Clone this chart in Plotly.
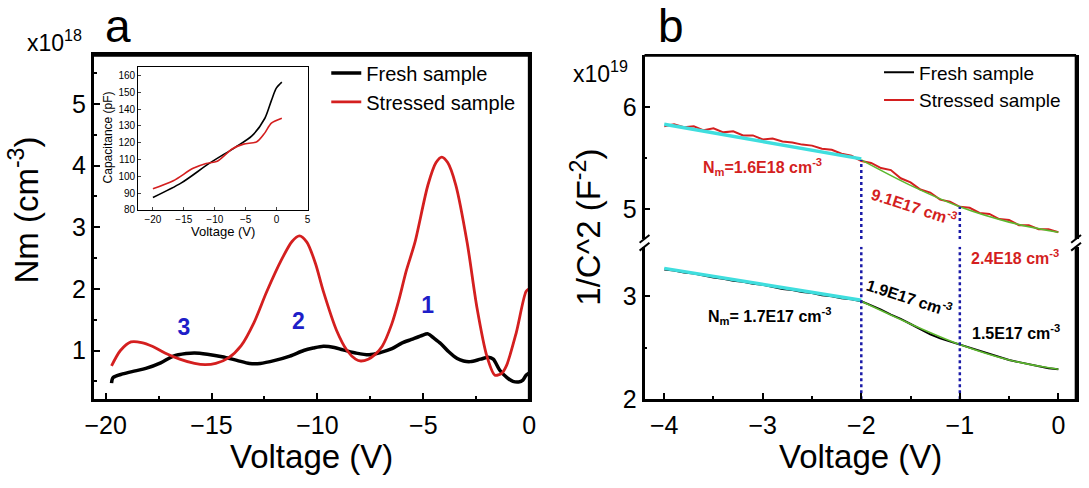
import plotly.graph_objects as go

# ---------------- data ----------------
# Panel a: Nm profiles (x10^18 cm^-3) vs voltage
a_fresh_v = [-19.72, -19.65, -19.2, -18.6, -18.1, -17.4, -16.8, -16.2, -15.8, -15.2, -14.5, -13.8,
             -13.2, -12.7, -12.0, -11.3, -10.65, -10.2, -9.72, -9.2, -8.8, -8.2, -7.56, -7.0,
             -6.48, -6.02, -5.56, -5.1, -4.78, -4.5, -4.17, -3.8, -3.4, -3.1, -2.78, -2.3,
             -1.93, -1.7, -1.39, -1.05, -0.77, -0.5, -0.3, -0.15, -0.02]
a_fresh_nm = [0.47, 0.56, 0.62, 0.67, 0.71, 0.80, 0.91, 0.95, 0.96, 0.94, 0.90, 0.84,
              0.79, 0.79, 0.84, 0.91, 1.00, 1.04, 1.07, 1.05, 1.01, 0.96, 0.93, 0.97,
              1.03, 1.12, 1.18, 1.24, 1.27, 1.20, 1.11, 0.98, 0.87, 0.83, 0.82, 0.86,
              0.89, 0.86, 0.68, 0.56, 0.50, 0.49, 0.52, 0.60, 0.63]

a_stress_v = [-19.72, -19.3, -18.8, -18.3, -17.8, -17.2, -16.5, -15.8, -15.3, -14.8, -14.2, -13.6,
              -13.0, -12.4, -11.7, -11.2, -10.85, -10.5, -10.1, -9.72, -9.1, -8.6, -8.2, -7.95,
              -7.6, -7.3, -6.94, -6.5, -6.17, -5.8, -5.4, -4.78, -4.4, -4.13, -3.85, -3.47,
              -2.93, -2.47, -2.0, -1.62, -1.3, -1.08, -0.62, -0.15, -0.02]
a_stress_nm = [0.75, 1.00, 1.14, 1.13, 1.07, 0.96, 0.86, 0.79, 0.77, 0.79, 0.88, 1.08,
               1.45, 1.95, 2.47, 2.77, 2.86, 2.76, 2.42, 1.96, 1.33, 1.00, 0.86, 0.83,
               0.86, 0.93, 1.07, 1.42, 1.80, 2.30, 2.75, 3.69, 4.05, 4.14, 4.05, 3.69,
               2.75, 1.70, 0.91, 0.60, 0.63, 0.75, 1.28, 1.96, 2.00]

peak_labels = ["1", "2", "3"]
peak_v = [-4.8, -10.9, -16.3]
peak_nm = [1.70, 1.44, 1.35]

# Inset: C-V curves (pF)
cv_fresh_v = [-20, -15.4, -10.9, -6.7, -4.0, -1.9, -0.85, -0.05, 0.84]
cv_fresh_c = [87.3, 96.0, 107.6, 117.2, 124.0, 134.5, 145.0, 152.4, 156.0]
cv_stress_v = [-20, -16.7, -13.5, -11.4, -9.6, -7.2, -5.35, -3.2, -1.9, -0.85, 0.84]
cv_stress_c = [92.5, 97.3, 104.7, 107.6, 108.9, 116.2, 119.1, 120.5, 125.8, 131.6, 134.5]

# Panel b: 1/C^2 (x10^19 F^-2)
b_v = [-4.0, -3.9, -3.8, -3.7, -3.6, -3.5, -3.4, -3.3, -3.2, -3.1, -3.0, -2.9, -2.8, -2.7,
       -2.6, -2.5, -2.4, -2.3, -2.2, -2.1, -2.0, -1.9, -1.8, -1.7, -1.6, -1.5, -1.4, -1.3,
       -1.2, -1.1, -1.0, -0.9, -0.8, -0.7, -0.6, -0.5, -0.4, -0.3, -0.2, -0.1, 0.0]
b_fresh = [3.26, 3.25, 3.23, 3.22, 3.20, 3.18, 3.17, 3.15, 3.14, 3.12, 3.11, 3.09, 3.07, 3.06,
           3.04, 3.03, 3.01, 3.00, 2.98, 2.97, 2.95, 2.91, 2.87, 2.82, 2.78, 2.73, 2.68, 2.63,
           2.59, 2.56, 2.53, 2.50, 2.47, 2.44, 2.41, 2.38, 2.36, 2.34, 2.32, 2.30, 2.29]
b_stress = [5.81, 5.83, 5.80, 5.81, 5.77, 5.79, 5.75, 5.76, 5.72, 5.72, 5.68, 5.69, 5.66, 5.65,
            5.63, 5.62, 5.59, 5.58, 5.54, 5.52, 5.47, 5.45, 5.40, 5.38, 5.30, 5.26, 5.19, 5.16,
            5.09, 5.07, 5.02, 5.01, 4.96, 4.95, 4.90, 4.89, 4.84, 4.84, 4.80, 4.80, 4.77]

fit1_v = [-4.0, -2.0]
fit1_fresh = [3.27, 2.96]
fit1_stress = [5.83, 5.49]
fit2_v = [-2.0, -1.5, -1.0, -0.5, 0.0]
fit2_fresh = [2.95, 2.73, 2.53, 2.38, 2.29]
fit2_stress = [5.48, 5.23, 5.02, 4.87, 4.77]

vline_v = [-2.0, -1.0]
vline_top = [5.48, 5.02]

# ---------------- layout helpers ----------------
W, H = 1089, 488
def px(x): return x / W
def py(y): return 1 - y / H

FONT = "Liberation Sans, Arial, sans-serif"
RED = "#d41f1f"
BLUE = "#1e1ec8"
CYAN = "#3fdede"
GREEN = "#5cb82e"

fig = go.Figure()

# Panel a main
fig.add_trace(go.Scatter(x=a_fresh_v, y=a_fresh_nm, mode="lines", name="Fresh sample",
                         line=dict(color="black", width=3.5, shape="spline", smoothing=0.8),
                         xaxis="x", yaxis="y", legend="legend"))
fig.add_trace(go.Scatter(x=a_stress_v, y=a_stress_nm, mode="lines", name="Stressed sample",
                         line=dict(color=RED, width=2.8, shape="spline", smoothing=0.8),
                         xaxis="x", yaxis="y", legend="legend"))
fig.add_trace(go.Scatter(x=peak_v, y=peak_nm, mode="text", text=[f"<b>{t}</b>" for t in peak_labels],
                         textfont=dict(color=BLUE, size=23, family=FONT), showlegend=False,
                         xaxis="x", yaxis="y"))

# Inset
fig.add_trace(go.Scatter(x=cv_fresh_v, y=cv_fresh_c, mode="lines", showlegend=False,
                         line=dict(color="black", width=1.6, shape="spline", smoothing=0.8),
                         xaxis="x2", yaxis="y2"))
fig.add_trace(go.Scatter(x=cv_stress_v, y=cv_stress_c, mode="lines", showlegend=False,
                         line=dict(color=RED, width=1.6, shape="spline", smoothing=0.8),
                         xaxis="x2", yaxis="y2"))

# Panel b data
fig.add_trace(go.Scatter(x=b_v, y=b_fresh, mode="lines", name="Fresh sample",
                         line=dict(color="black", width=2), xaxis="x3", yaxis="y3", legend="legend2"))
fig.add_trace(go.Scatter(x=b_v, y=b_stress, mode="lines", name="Stressed sample",
                         line=dict(color=RED, width=2), xaxis="x3", yaxis="y4", legend="legend2"))
# fits
for yy, ax in [(fit1_fresh, "y3"), (fit1_stress, "y4")]:
    fig.add_trace(go.Scatter(x=fit1_v, y=yy, mode="lines", showlegend=False,
                             line=dict(color=CYAN, width=3.5), xaxis="x3", yaxis=ax))
for yy, ax in [(fit2_fresh, "y3"), (fit2_stress, "y4")]:
    fig.add_trace(go.Scatter(x=fit2_v, y=yy, mode="lines", showlegend=False,
                             line=dict(color=GREEN, width=1.6, shape="spline"), xaxis="x3", yaxis=ax))
# dotted verticals
LOW_RANGE = [2.0, 3.48]
UP_RANGE = [4.705, 6.505]
for v, top in zip(vline_v, vline_top):
    fig.add_trace(go.Scatter(x=[v, v], y=[LOW_RANGE[0], LOW_RANGE[1]], mode="lines", showlegend=False,
                             line=dict(color="#1a1aa8", width=2.5, dash="dot"), xaxis="x3", yaxis="y3"))
    fig.add_trace(go.Scatter(x=[v, v], y=[UP_RANGE[0], top], mode="lines", showlegend=False,
                             line=dict(color="#1a1aa8", width=2.5, dash="dot"), xaxis="x3", yaxis="y4"))

tickfont = dict(family=FONT, size=25, color="black")
frame = dict(showline=True, linecolor="black", linewidth=2.8, mirror=True, ticks="inside",
             ticklen=6, tickwidth=1.8, tickcolor="black", showgrid=False, zeroline=False,
             tickfont=tickfont)

fig.update_layout(
    width=W, height=H, margin=dict(l=0, r=0, t=0, b=0),
    paper_bgcolor="white", plot_bgcolor="rgba(0,0,0,0)",
    font=dict(family=FONT, color="black"),
    xaxis=dict(domain=[px(86), px(528)], range=[-20.56, 0], anchor="y", dtick=5,
               ticklabelstandoff=2,
               minor=dict(ticks="inside", ticklen=3, dtick=2.5, tickcolor="black"), **frame),
    yaxis=dict(domain=[py(411), py(57)], range=[0.21, 5.79], anchor="x", dtick=1, tick0=0,
               minor=dict(ticks="inside", ticklen=3, dtick=0.5, tickcolor="black"), **frame),
    xaxis2=dict(domain=[px(131), px(303)], range=[-22.4, 5], anchor="y2", dtick=5,
                showline=True, linecolor="black", linewidth=1, mirror=True, ticks="inside",
                ticklen=3, showgrid=False, zeroline=False,
                tickfont=dict(family=FONT, size=10, color="black")),
    yaxis2=dict(domain=[py(216), py(69)], range=[80, 165], anchor="x2", dtick=10,
                showline=True, linecolor="black", linewidth=1, mirror=True, ticks="inside",
                ticklen=3, showgrid=False, zeroline=False,
                tickfont=dict(family=FONT, size=10, color="black")),
    xaxis3=dict(domain=[px(645), px(1083)], range=[-4.2, 0.18], anchor="y3", dtick=1,
                ticklabelstandoff=2,
                minor=dict(ticks="inside", ticklen=3, dtick=0.5, tickcolor="black"),
                **{k: v for k, v in frame.items() if k != "mirror"}),
    yaxis3=dict(domain=[py(411), py(254)], range=LOW_RANGE, anchor="x3", dtick=1,
                minor=dict(ticks="inside", ticklen=3, dtick=0.5, tickcolor="black"), **frame),
    yaxis4=dict(domain=[py(246), py(57)], range=UP_RANGE, anchor="x3", dtick=1,
                minor=dict(ticks="inside", ticklen=3, dtick=0.5, tickcolor="black"), **frame),
    legend=dict(x=px(322), y=py(55), xanchor="left", yanchor="top", bgcolor="rgba(0,0,0,0)",
                font=dict(family=FONT, size=20, color="black"), itemwidth=30, tracegroupgap=0),
    legend2=dict(x=px(883), y=py(55), xanchor="left", yanchor="top", bgcolor="rgba(0,0,0,0)",
                 font=dict(family=FONT, size=19, color="black"), itemwidth=30, tracegroupgap=0),
)

# inset white background
fig.add_shape(type="rect", xref="paper", yref="paper", x0=px(131), x1=px(303), y0=py(216), y1=py(69),
              fillcolor="white", line=dict(width=0), layer="below")

FRAME_LINE = dict(color="black", width=2.8)
# panel a frame: top and right edges
fig.add_shape(type="line", xref="paper", yref="paper", x0=px(86), x1=px(528), y0=py(57), y1=py(57),
              line=FRAME_LINE)
fig.add_shape(type="line", xref="paper", yref="paper", x0=px(528), x1=px(528), y0=py(57), y1=py(411),
              line=FRAME_LINE)
# panel b frame: top and right edges (split at the axis break)
fig.add_shape(type="line", xref="paper", yref="paper", x0=px(645), x1=px(1083), y0=py(57), y1=py(57),
              line=FRAME_LINE)
for y0b, y1b in [(57, 246), (254, 411)]:
    fig.add_shape(type="line", xref="paper", yref="paper", x0=px(1083), x1=px(1083),
                  y0=py(y0b), y1=py(y1b), line=FRAME_LINE)

# axis-break marks for panel b
for xb in [645, 1083]:
    for yb in [246, 254]:
        fig.add_shape(type="line", xref="paper", yref="paper",
                      x0=px(xb - 5), y0=py(yb + 4), x1=px(xb + 5), y1=py(yb - 4),
                      line=dict(color="black", width=2))

def ann(text, x, y, size, color="black", angle=0, **kw):
    fig.add_annotation(text=text, x=px(x), y=py(y), xref="paper", yref="paper", showarrow=False,
                       font=dict(family=FONT, size=size, color=color), textangle=angle,
                       xanchor="center", yanchor="middle", **kw)

ann("a", 111, 27, 46)
ann("b", 672, 27, 46)
ann("x10<sup>18</sup>", 46, 42, 23)
ann("x10<sup>19</sup>", 600, 74, 23)
ann("Voltage (V)", 307, 470, 33)
ann("Voltage (V)", 864, 470, 33)
ann("Nm (cm<sup>-3</sup>)", 15, 216, 33, angle=-90)
ann("1/C^2 (F<sup>-2</sup>)", 586, 234, 33, angle=-90)
ann("Capacitance (pF)", 100, 142, 12, angle=-90)
ann("Voltage (V)", 217, 238, 13)

ann("<b>N<sub>m</sub>=1.6E18 cm<sup>-3</sup></b>", 765, 172, 16, RED)
ann("<b>9.1E17 cm<sup>-3</sup></b>", 918, 212, 16, RED, angle=18)
ann("<b>2.4E18 cm<sup>-3</sup></b>", 1021, 265, 16, RED)
ann("<b>1.9E17 cm<sup>-3</sup></b>", 913, 306, 16, "black", angle=18)
ann("<b>N<sub>m</sub>= 1.7E17 cm<sup>-3</sup></b>", 772, 325, 16, "black")
ann("<b>1.5E17 cm<sup>-3</sup></b>", 1022, 342, 16, "black")

fig.write_html("out.html", config={"displayModeBar": False},
               post_script="document.body.style.margin='0px';")
